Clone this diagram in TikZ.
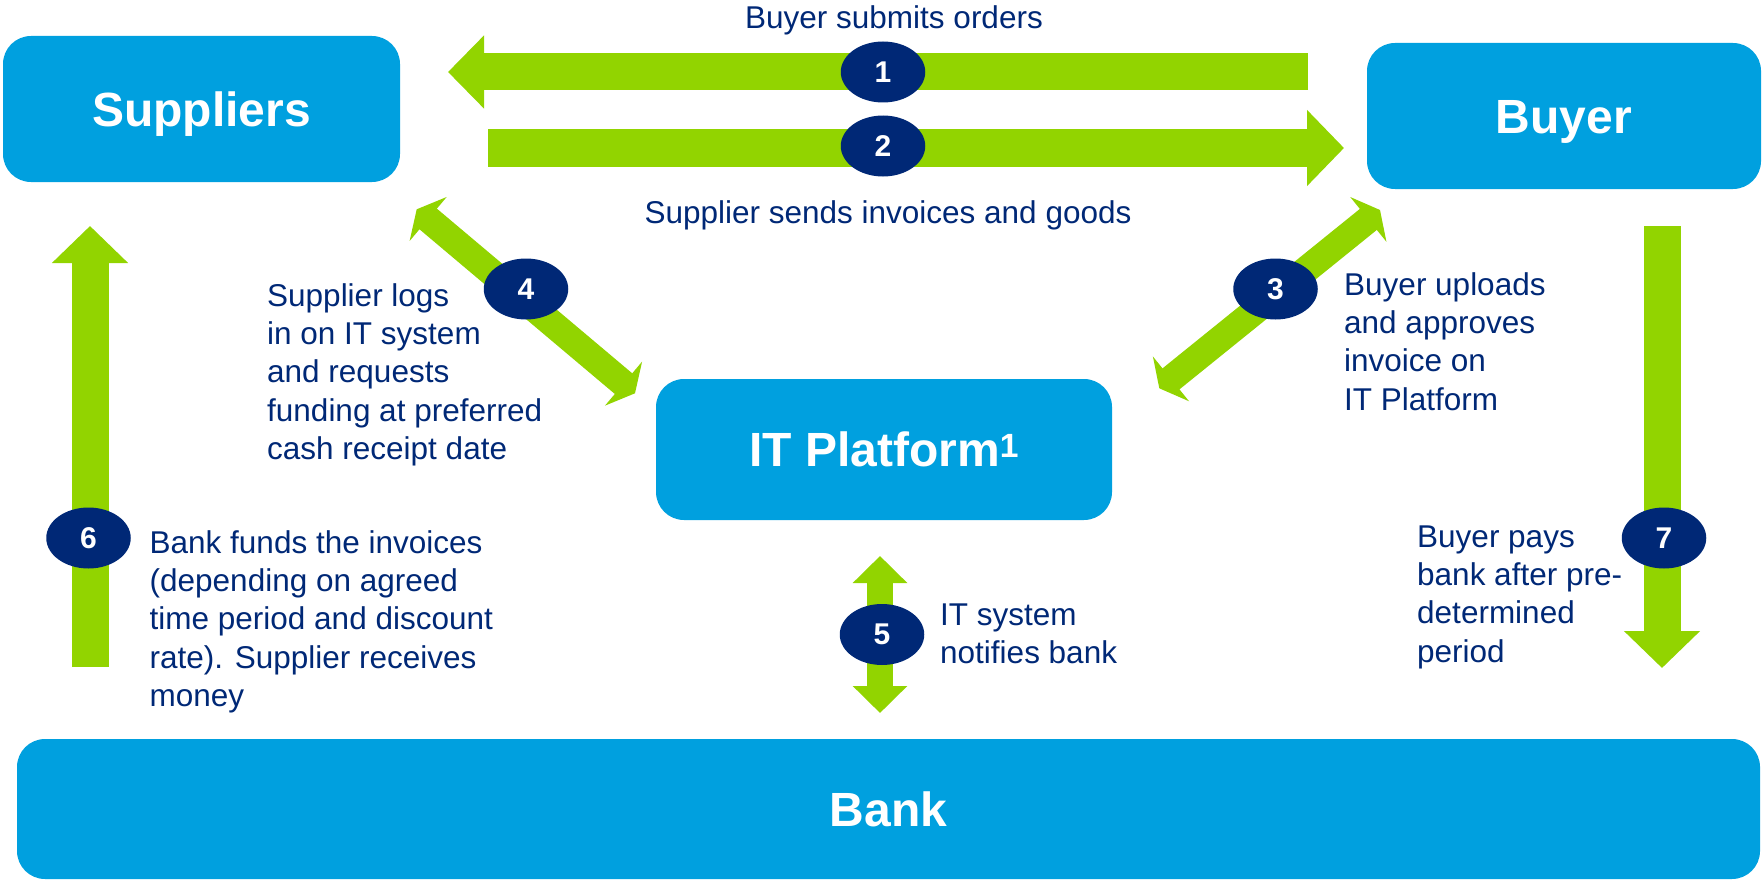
\documentclass[tikz,border=0pt]{standalone}
\usepackage{fontspec}
\setmainfont{Liberation Sans}
\usetikzlibrary{arrows.meta,shapes.geometric}
\definecolor{boxblue}{RGB}{0,160,223}
\definecolor{agreen}{RGB}{146,212,0}
\definecolor{navy}{RGB}{0,40,118}
\begin{document}
\begin{tikzpicture}[x=1pt,y=-1pt,
  box/.style={fill=boxblue, rounded corners=28pt, inner sep=0pt, text=white,
    text height=34.4pt, text depth=0pt,
    font=\fontsize{48}{56}\selectfont\bfseries},
  num/.style={ellipse, fill=navy, text=white, minimum width=84.5pt, minimum height=61pt,
    inner sep=0pt, font=\fontsize{30}{36}\selectfont\bfseries},
  lbl/.style={text=navy, inner sep=0pt, anchor=base west,
    font=\fontsize{31.5}{38.4}\selectfont},
  bigarrow/.style={draw=agreen, line width=37pt, -{Triangle[width=74pt,length=37pt]}},
  diagarrow/.style={draw=agreen, line width=27pt,
    {Triangle[width=57pt,length=15pt]}-{Triangle[width=57pt,length=15pt]}},
]
\useasboundingbox (0,0) rectangle (1763,880);

% boxes
\node[box, minimum width=397pt, minimum height=146pt] (suppliers) at (201.5,109) {Suppliers};
\node[box, minimum width=394pt, minimum height=146pt] (buyer) at (1564,116) {Buyer};
\node[box, minimum width=456pt, minimum height=141pt] (itp) at (884,449.5) {IT Platform\textsuperscript{1}};
\node[box, minimum width=1743pt, minimum height=140pt] (bank) at (888.5,809) {Bank};

% arrow end points
\coordinate (a1s) at (1308,72);   \coordinate (a1e) at (448,72);
\coordinate (a2s) at (488,148);   \coordinate (a2e) at (1344,148);
\coordinate (a3s) at (1159.3,388.3); \coordinate (a3e) at (1380,210);
\coordinate (a4s) at (416.7,209.3);  \coordinate (a4e) at (635,393.3);
\coordinate (a5s) at (880,556);   \coordinate (a5e) at (880,713);
\coordinate (a6s) at (90,667);    \coordinate (a6e) at (90,226);
\coordinate (a7s) at (1662,226);  \coordinate (a7e) at (1662,668);

% arrows
\draw[draw=agreen, line width=37pt, -{Triangle[width=71pt,length=36pt]}] (a1s) -- (a1e);
\draw[bigarrow] (a2s) -- (a2e);
\draw[diagarrow] (a3s) -- (a3e);
\draw[diagarrow] (a4s) -- (a4e);
\draw[draw=agreen, line width=26.7pt,
  {Triangle[width=53pt,length=27pt]}-{Triangle[width=53pt,length=27pt]}] (a5s) -- (a5e);
\draw[bigarrow] (a6s) -- (a6e);
\draw[bigarrow] (a7s) -- (a7e);

% step markers
\node[num] (n1) at (883,72) {1};
\node[num] (n2) at (883,146) {2};
\node[num] (n3) at (1275.5,289) {3};
\node[num] (n4) at (526,289) {4};
\node[num] (n5) at (882,634.5) {5};
\node[num] (n6) at (88.5,538) {6};
\node[num] (n7) at (1664,538) {7};

% labels
\node[lbl, anchor=base] (t1) at (894,29) {Buyer submits orders};
\node[lbl, anchor=base] (t2) at (888,223) {Supplier sends invoices and goods};
\node[lbl] (t4) at (267,306) {\parbox[t]{400pt}{Supplier logs\\in on IT system\\and requests\\funding at preferred\\cash receipt date}};
\node[lbl] (t3) at (1344,295) {\parbox[t]{400pt}{Buyer uploads\\and approves\\invoice on\\IT Platform}};
\node[lbl] (t6) at (149.5,553) {\parbox[t]{400pt}{Bank funds the invoices\\(depending on agreed\\time period and discount\\rate). Supplier receives\\money}};
\node[lbl] (t5) at (940,625) {\parbox[t]{300pt}{IT system\\notifies bank}};
\node[lbl] (t7) at (1417,547) {\parbox[t]{300pt}{Buyer pays\\bank after pre-\\determined\\period}};
\end{tikzpicture}
\end{document}
